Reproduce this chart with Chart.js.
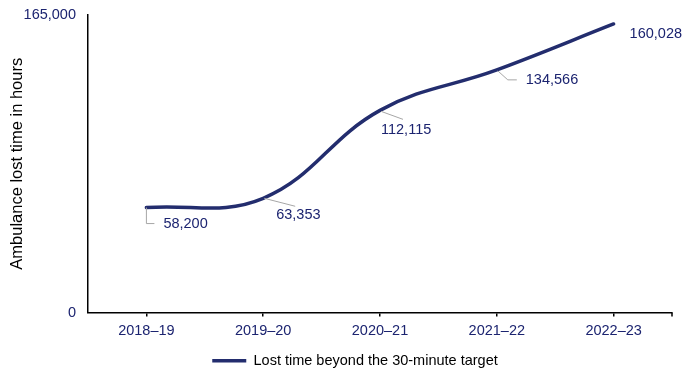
<!DOCTYPE html>
<html>
<head>
<meta charset="utf-8">
<script src="https://cdn.jsdelivr.net/npm/chart.js@4.4.1/dist/chart.umd.min.js"></script>
<style>
  html, body { margin: 0; padding: 0; background: #fff; }
  #wrap { width: 700px; height: 380px; position: relative; }
</style>
</head>
<body>
<div id="wrap"><canvas id="c" width="700" height="380"></canvas></div>
<script>
const categories = ['2018–19', '2019–20', '2020–21', '2021–22', '2022–23'];
const lostHours = [58200, 63353, 112115, 134566, 160028];
const yTickValues = [0, 165000];
const seriesName = 'Lost time beyond the 30-minute target';
const axisTitle = 'Ambulance lost time in hours';

const NAVY_TEXT = '#1c2470';
const LINE_COL = '#232d6e';
const LEADER = '#a6a6a6';
const FONT = "'Liberation Sans', Arial, sans-serif";

// label placement relative to each point: text offset and leader polyline
const labelPlacement = [
  { dx: 17, dy: 16, leader: [[0, 0], [0, 16], [8, 16]] },
  { dx: 13, dy: 17, leader: [[1, 0], [32, 8]] },
  { dx: 1, dy: 20, leader: [[1, 1], [23, 9]] },
  { dx: 29, dy: 10, leader: [[1, 1], [11, 10], [20, 10]] },
  { dx: 16, dy: 10, leader: null }
];

const dataLabelPlugin = {
  id: 'dataLabels',
  afterDatasetsDraw(chart) {
    const ctx = chart.ctx;
    const meta = chart.getDatasetMeta(0);
    const ds = chart.data.datasets[0];
    ctx.save();
    meta.data.forEach((pt, i) => {
      const p = labelPlacement[i];
      if (p.leader) {
        ctx.beginPath();
        ctx.strokeStyle = LEADER;
        ctx.lineWidth = 1;
        p.leader.forEach((o, j) => {
          const x = pt.x + o[0], y = pt.y + o[1];
          if (j === 0) ctx.moveTo(x, y); else ctx.lineTo(x, y);
        });
        ctx.stroke();
      }
      ctx.fillStyle = NAVY_TEXT;
      ctx.font = '14.5px ' + FONT;
      ctx.textAlign = 'left';
      ctx.textBaseline = 'middle';
      ctx.fillText(ds.data[i].toLocaleString('en-US'), pt.x + p.dx, pt.y + p.dy);
    });
    ctx.restore();
  }
};

const endTickPlugin = {
  id: 'endTick',
  beforeDraw(chart) {
    // nudge the centred legend to the reference's horizontal position
    if (chart.legend && !chart.legend._nudged) {
      chart.legend.left += 14;
      chart.legend.right += 14;
      chart.legend._nudged = true;
    }
  },
  afterDraw(chart) {
    const xs = chart.scales.x;
    const ctx = chart.ctx;
    ctx.save();
    ctx.strokeStyle = '#000';
    ctx.lineWidth = 1.5;
    ctx.beginPath();
    ctx.moveTo(xs.right, xs.top);
    ctx.lineTo(xs.right, xs.top + 4);
    ctx.stroke();
    ctx.restore();
  }
};

new Chart(document.getElementById('c'), {
  type: 'line',
  data: {
    labels: categories,
    datasets: [{
      label: seriesName,
      data: lostHours,
      borderColor: LINE_COL,
      backgroundColor: LINE_COL,
      borderWidth: 3.5,
      borderCapStyle: 'round',
      tension: 0.4,
      pointRadius: 0,
      pointHoverRadius: 0,
      pointStyle: 'line',
      fill: false
    }]
  },
  options: {
    responsive: false,
    animation: false,
    events: [],
    layout: { padding: { left: 10, right: 28, top: 15, bottom: 2 } },
    plugins: {
      tooltip: { enabled: false },
      legend: {
        position: 'bottom',
        labels: {
          usePointStyle: true,
          pointStyle: 'line',
          pointStyleWidth: 34,
          color: '#000',
          font: { family: FONT, size: 14.5 },
          padding: 10
        }
      }
    },
    scales: {
      x: {
        offset: true,
        afterFit(scale) { scale.height = 31; },
        grid: {
          display: true,
          drawOnChartArea: false,
          drawTicks: true,
          tickLength: 4,
          offset: false,
          color: '#000',
          lineWidth: 1.5
        },
        border: { display: true, color: '#000', width: 1.5 },
        ticks: {
          color: NAVY_TEXT,
          font: { family: FONT, size: 14.5 },
          padding: 6,
          maxRotation: 0,
          autoSkip: false
        }
      },
      y: {
        min: 0,
        max: 165000,
        afterFit(scale) { scale.width = 78; scale.paddingTop = 0; scale.paddingBottom = 0; },
        afterBuildTicks(scale) { scale.ticks = yTickValues.map(v => ({ value: v })); },
        grid: { display: false, drawTicks: false },
        border: { display: true, color: '#000', width: 1.5 },
        ticks: {
          color: NAVY_TEXT,
          font: { family: FONT, size: 14.5 },
          padding: 12,
          callback: v => Number(v).toLocaleString('en-US')
        },
        title: {
          display: true,
          text: axisTitle,
          color: '#000',
          font: { family: FONT, size: 16.5 },
          padding: { top: -2.4, bottom: 0 }
        }
      }
    }
  },
  plugins: [dataLabelPlugin, endTickPlugin]
});
</script>
</body>
</html>
